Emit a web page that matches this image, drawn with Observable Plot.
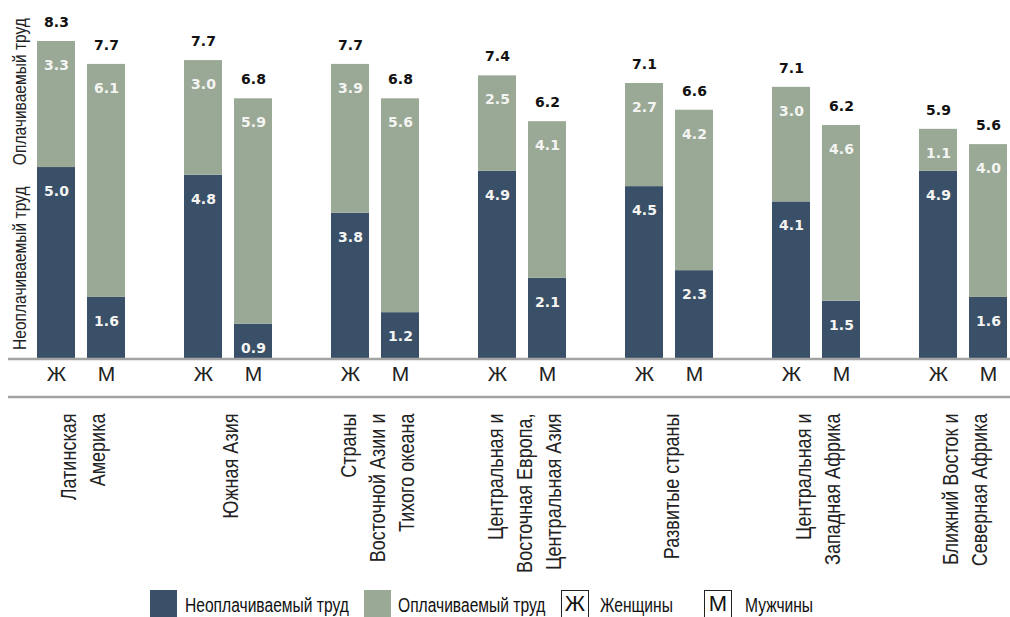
<!DOCTYPE html>
<html>
<head>
<meta charset="utf-8">
<script src="https://cdn.jsdelivr.net/npm/d3@7"></script>
<script src="https://cdn.jsdelivr.net/npm/@observablehq/plot@0.6"></script>
<style>
  html, body { margin: 0; padding: 0; background: #fff; overflow: hidden; }
  #chart { position: relative; width: 1010px; }
  #legend { position: relative; width: 1010px; height: 29px; font-family: "Liberation Sans", Arial, sans-serif; font-size: 20px; color: #111; }
  #legend .sw { position: absolute; top: 2px; width: 27px; height: 30px; }
  #legend .tx { position: absolute; top: 6px; white-space: nowrap; transform: scaleX(0.78); transform-origin: 0 0; }
  #legend .bx { position: absolute; top: 2px; width: 26px; height: 30px; border: 1.5px solid #222; text-align: center; line-height: 26px; font-size: 22px; }
</style>
</head>
<body>
<div id="chart"></div>
<div id="legend"></div>
<script>
const regions = ["Латинская Америка", "Южная Азия", "Страны Восточной Азии и Тихого океана",
  "Центральная и Восточная Европа, Центральная Азия", "Развитые страны",
  "Центральная и Западная Африка", "Ближний Восток и Северная Африка"];
const regionLabels = ["Латинская\nАмерика", "Южная Азия", "Страны\nВосточной Азии и\nТихого океана",
  "Центральная и\nВосточная Европа,\nЦентральная Азия", "Развитые страны",
  "Центральная и\nЗападная Африка", "Ближний Восток и\nСеверная Африка"];
const genders = ["Ж", "М"];
const types = ["Неоплачиваемый труд", "Оплачиваемый труд"];
const unpaidF = [5.0, 4.8, 3.8, 4.9, 4.5, 4.1, 4.9];
const paidF   = [3.3, 3.0, 3.9, 2.5, 2.7, 3.0, 1.1];
const unpaidM = [1.6, 0.9, 1.2, 2.1, 2.3, 1.5, 1.6];
const paidM   = [6.1, 5.9, 5.6, 4.1, 4.2, 4.6, 4.0];
const totalF  = [8.3, 7.7, 7.7, 7.4, 7.1, 7.1, 5.9];
const totalM  = [7.7, 6.8, 6.8, 6.2, 6.6, 6.2, 5.6];
const legendLabels = ["Неоплачиваемый труд", "Оплачиваемый труд", "Женщины", "Мужчины"];
const colors = ["#3a5068", "#9aa896"];

const rows = [];
const tops = [];
regions.forEach((r, i) => {
  rows.push({region: r, gender: "Ж", type: types[0], value: unpaidF[i]});
  rows.push({region: r, gender: "Ж", type: types[1], value: paidF[i]});
  rows.push({region: r, gender: "М", type: types[0], value: unpaidM[i]});
  rows.push({region: r, gender: "М", type: types[1], value: paidM[i]});
  tops.push({region: r, gender: "Ж", top: unpaidF[i] + paidF[i], total: totalF[i]});
  tops.push({region: r, gender: "М", top: unpaidM[i] + paidM[i], total: totalM[i]});
});
const regionRows = regions.map((r, i) => ({region: r, label: regionLabels[i]}));

const numFont = "'DejaVu Sans', sans-serif";
const sansFont = "'Liberation Sans', Arial, sans-serif";
const condense = 0.82;

const plot = Plot.plot({
  width: 1010,
  height: 588,
  marginLeft: 35,
  marginRight: 0,
  marginTop: 41,
  marginBottom: 230,
  fx: {domain: regions, paddingInner: 0.40, paddingOuter: 0, axis: null},
  x: {domain: genders, paddingInner: 0.24, paddingOuter: 0, axis: null},
  y: {domain: [0, 8.3], axis: null},
  color: {domain: types, range: colors},
  marks: [
    Plot.barY(rows, Plot.stackY({fx: "region", x: "gender", y: "value", fill: "type"})),
    Plot.text(rows, Plot.stackY2({fx: "region", x: "gender", y: "value", text: d => d.value.toFixed(1),
      fill: "#f4f5f2", dy: 24, fontSize: 14, fontWeight: 700, fontFamily: numFont})),
    Plot.text(tops, {fx: "region", x: "gender", y: "top", text: d => d.total.toFixed(1),
      fill: "#111", dy: -19, fontSize: 14, fontWeight: 700, fontFamily: numFont}),
    Plot.text(tops, {fx: "region", x: "gender", text: "gender", frameAnchor: "bottom", dy: 22,
      fill: "#222", fontSize: 21, fontFamily: sansFont}),
    Plot.text(regionRows, {fx: "region", text: "label", frameAnchor: "bottom", dy: 55, rotate: -90,
      textAnchor: "end", lineAnchor: "middle", lineHeight: 1.32, fontSize: 22, fill: "#222", fontFamily: sansFont})
  ]
});
document.getElementById("chart").appendChild(plot);

const svg = d3.select(plot);
// condense rotated labels along their reading direction (narrow typeface look)
svg.selectAll("text").each(function() {
  const t = this.getAttribute("transform");
  if (t && t.includes("rotate(-90)")) this.setAttribute("transform", t + ` scale(${condense},1)`);
});

// decorative baseline rules and side labels, positioned from the y scale
const ys = plot.scale("y");
const base = ys.apply(0);
svg.append("line").attr("x1", 8).attr("x2", 1010).attr("y1", base + 1).attr("y2", base + 1)
  .attr("stroke", "#a3a3a3").attr("stroke-width", 2.5);
svg.append("line").attr("x1", 8).attr("x2", 1010).attr("y1", base + 39).attr("y2", base + 39)
  .attr("stroke", "#a3a3a3").attr("stroke-width", 2.5);
const sideX = 26;
[[types[0], base - 8], [types[1], ys.apply(unpaidF[0] + 0.05)]].forEach(([t, yy]) => {
  svg.append("text").attr("transform", `translate(${sideX},${yy}) rotate(-90) scale(${condense},1)`)
    .attr("text-anchor", "start").attr("font-family", sansFont).attr("font-size", 19)
    .attr("fill", "#222").text(t);
});

// legend
const lg = d3.select("#legend");
lg.append("div").attr("class", "sw").style("left", "150px").style("background", colors[0]);
lg.append("div").attr("class", "tx").style("left", "185px").text(legendLabels[0]);
lg.append("div").attr("class", "sw").style("left", "364px").style("background", colors[1]);
lg.append("div").attr("class", "tx").style("left", "398px").text(legendLabels[1]);
lg.append("div").attr("class", "bx").style("left", "561px").text(genders[0]);
lg.append("div").attr("class", "tx").style("left", "600px").text(legendLabels[2]);
lg.append("div").attr("class", "bx").style("left", "704px").text(genders[1]);
lg.append("div").attr("class", "tx").style("left", "745px").text(legendLabels[3]);
</script>
</body>
</html>
